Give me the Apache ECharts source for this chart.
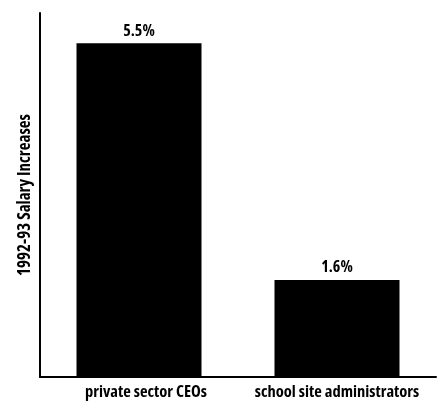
<!DOCTYPE html>
<html>
<head>
<meta charset="utf-8">
<script src="https://cdn.jsdelivr.net/npm/echarts@6/dist/echarts.min.js"></script>
<style>
  html, body { margin: 0; padding: 0; background: #fff; }
  #chart { width: 441px; height: 405px; }
</style>
</head>
<body>
<div id="chart"></div>
<script>
// Salary increases, 1992-93 (percent)
const categories = ['private sector CEOs', 'school site administrators'];
const increases = [5.5, 1.6];
const valueLabels = ['5.5%', '1.6%'];

// Condensed bold sans for all labels
const FONT = '"Open Sans", sans-serif';
const textStyle = (size) => ({
  color: '#000',
  fontFamily: FONT,
  fontStyle: 'condensed',
  fontWeight: 'bold',
  fontSize: size
});

const chart = echarts.init(document.getElementById('chart'));
chart.setOption({
  animation: false,
  backgroundColor: '#ffffff',
  grid: { left: 40, right: 5, top: 13, bottom: 28, containLabel: false },
  xAxis: {
    type: 'category',
    data: categories.map((name, i) => (
      // first label sits a little right of its bar centre
      i === 0 ? { value: name, textStyle: { padding: [0, 0, 0, 14] } } : name
    )),
    axisLine: { show: true, lineStyle: { color: '#000', width: 2 } },
    axisTick: { show: false },
    axisLabel: Object.assign(textStyle(16.5), { interval: 0, margin: 7 })
  },
  yAxis: {
    type: 'value',
    min: 0,
    max: 6,
    name: '1992-93 Salary Increases',
    nameLocation: 'middle',
    nameGap: 6,
    nameTextStyle: textStyle(17),
    axisLine: { show: true, lineStyle: { color: '#000', width: 2 } },
    axisTick: { show: false },
    axisLabel: { show: false },
    splitLine: { show: false }
  },
  series: [{
    type: 'bar',
    data: increases,
    barWidth: 125,
    itemStyle: { color: '#000' },
    label: Object.assign(textStyle(16), {
      show: true,
      position: 'top',
      distance: 4,
      formatter: p => valueLabels[p.dataIndex]
    })
  }]
});
</script>
</body>
</html>
